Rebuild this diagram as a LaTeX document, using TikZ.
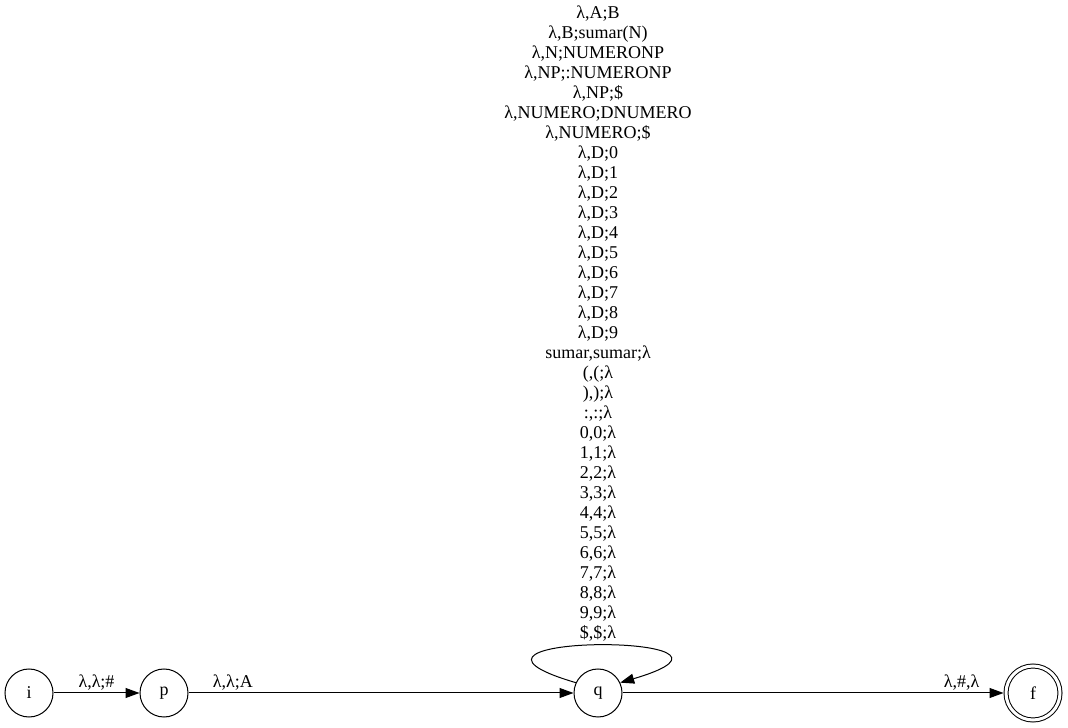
\documentclass[tikz,border=0pt]{standalone}
\usepackage{fontspec}
\setmainfont{Liberation Serif}
\usetikzlibrary{arrows.meta}

\begin{document}
\begin{tikzpicture}[x=1pt,y=1pt,
        every text node part/.style={align=center},
        every node/.style={font=\fontsize{18}{20}\selectfont},
        state/.style={draw,circle,minimum size=48pt,inner sep=0pt,line width=1pt},
        accept/.style={state,double,double distance=3pt,minimum size=54pt,outer sep=2.5pt},
        trans/.style={-{Triangle[length=14pt,width=10pt]},line width=1pt}]
        \useasboundingbox (0,0) rectangle (1068,728);
        \node[state] (i) at (29,35) {i};
        \node[state] (p) at (164,35) {p};
        \node[state] (q) at (598,35) {q};
        \node[accept] (f) at (1033,35) {f};
        \draw[trans] (i) -- node[above,inner sep=2pt] {λ,λ;\#} (p);
        \draw[trans] (p) -- node[above,inner sep=2pt,pos=0.115] {λ,λ;A} (q);
        \draw[trans] (q) -- node[above,inner sep=2pt,pos=0.89] {λ,\#,λ} (f);
        \draw[trans] (q.155) .. controls +(-170,50) and +(170,50) .. node[above,inner sep=3pt] {λ,A;B\\λ,B;sumar(N)\\λ,N;NUMERONP\\λ,NP;:NUMERONP\\λ,NP;\$\\λ,NUMERO;DNUMERO\\λ,NUMERO;\$\\λ,D;0\\λ,D;1\\λ,D;2\\λ,D;3\\λ,D;4\\λ,D;5\\λ,D;6\\λ,D;7\\λ,D;8\\λ,D;9\\sumar,sumar;λ\\(,(;λ\\),);λ\\:,:;λ\\0,0;λ\\1,1;λ\\2,2;λ\\3,3;λ\\4,4;λ\\5,5;λ\\6,6;λ\\7,7;λ\\8,8;λ\\9,9;λ\\\$,\$;λ} (q.25);
    \end{tikzpicture}
\end{document}
